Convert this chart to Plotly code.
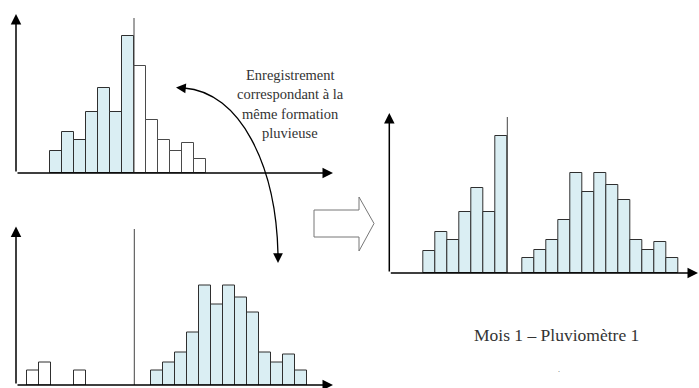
import plotly.graph_objects as go

W, H = 699, 388

# --- data (bar heights, arbitrary units) ---
top_blue = [22, 41, 33, 61, 85, 61, 137]
top_white = [107, 53, 33, 22, 30, 14]
bottom_white = [15, 23, 15]
bottom_white_bins = [0, 1, 3.9]
bottom_blue = [15, 23, 33, 53, 100, 81, 100, 88, 73, 33, 23, 31, 15]

note_lines = ["Enregistrement", "correspondant à la", "même formation", "pluvieuse"]
caption = "Mois 1 – Pluviomètre 1"

BLUE = "#DAEEF3"
EDGE = "#2f2f2f"
WEDGE = "#4a4a4a"
SERIF = "Liberation Serif, Times New Roman, DejaVu Serif, serif"
BIN = 12  # pixels per bin


def fx(px):
    return px / W


def fy(py):
    return 1 - py / H


# panel geometry in pixels: origin x, origin y, first bin left edge, x axis end, y axis top
PANELS = {
    "": (16, 173, 50, 333, 14),
    "2": (16, 385, 27.3, 333, 226.5),
    "3": (389.3, 273, 423.3, 698.5, 113),
}

fig = go.Figure()


def add_bars(ax, start, values, fill, edge):
    fig.add_trace(go.Bar(
        x=[start + i + 0.5 for i in range(len(values))],
        y=values,
        width=1,
        marker=dict(color=fill, line=dict(color=edge, width=1)),
        xaxis="x" + ax, yaxis="y" + ax,
        showlegend=False, hoverinfo="skip",
    ))


# top-left: gauge record, rain event split at the separator
add_bars("", 0, top_blue, BLUE, EDGE)
add_bars("", len(top_blue), top_white, "white", WEDGE)

# bottom-left
fig.add_trace(go.Bar(
    x=[b + 0.5 for b in bottom_white_bins], y=bottom_white, width=1,
    marker=dict(color="white", line=dict(color=EDGE, width=1)),
    xaxis="x2", yaxis="y2", showlegend=False, hoverinfo="skip",
))
b_start = (151 - 27.3) / BIN
add_bars("2", b_start, bottom_blue, BLUE, EDGE)

# right: merged month
add_bars("3", 0, top_blue, BLUE, EDGE)
add_bars("3", 8.25, bottom_blue, BLUE, EDGE)

layout = dict(
    width=W, height=H, margin=dict(l=0, r=0, t=0, b=0),
    paper_bgcolor="white", plot_bgcolor="rgba(0,0,0,0)",
    barmode="overlay", bargap=0,
)
annotations = []
shapes = []
axis_style = dict(showgrid=False, zeroline=False, showline=False,
                  showticklabels=False, ticks="", fixedrange=True)

for ax, (ox, oy, b0, xend, ytop) in PANELS.items():
    layout["xaxis" + ax] = dict(domain=[fx(ox), fx(xend)],
                                range=[(ox - b0) / BIN, (xend - b0) / BIN],
                                anchor="y" + ax, **axis_style)
    layout["yaxis" + ax] = dict(domain=[fy(oy), fy(ytop)],
                                range=[0, oy - ytop],
                                anchor="x" + ax, **axis_style)
    # axis arrows
    annotations.append(dict(xref="paper", yref="paper", x=fx(ox), y=fy(ytop),
                             ax=0, ay=oy - ytop, text="", showarrow=True,
                             arrowhead=2, arrowsize=1.4, arrowwidth=1.5,
                             arrowcolor="black", standoff=0))
    annotations.append(dict(xref="paper", yref="paper", x=fx(xend), y=fy(oy),
                             ax=-(xend - ox), ay=0, text="", showarrow=True,
                             arrowhead=2, arrowsize=1.4, arrowwidth=1.5,
                             arrowcolor="black", standoff=0))

# separators between the two rain events
for ax, xb, h in [("", 7, 155), ("2", (134.3 - 27.3) / BIN, 156), ("3", 7, 156)]:
    shapes.append(dict(type="line", xref="x" + ax, yref="y" + ax,
                       x0=xb, x1=xb, y0=0, y1=h,
                       line=dict(color="#444", width=1)))

# curved double arrow linking both records
p0, p1, p2, p3 = (184, 88), (240, 92), (276, 165), (278, 254)
shapes.append(dict(
    type="path", xref="paper", yref="paper",
    path="M {},{} C {},{} {},{} {},{}".format(
        fx(p0[0]), fy(p0[1]), fx(p1[0]), fy(p1[1]),
        fx(p2[0]), fy(p2[1]), fx(p3[0]), fy(p3[1])),
    line=dict(color="black", width=1.3),
))
annotations.append(dict(xref="paper", yref="paper", x=fx(176), y=fy(87.5),
                         ax=11, ay=1, text="", showarrow=True, arrowhead=2,
                         arrowsize=1.4, arrowwidth=1.4, arrowcolor="black", standoff=0))
annotations.append(dict(xref="paper", yref="paper", x=fx(278), y=fy(263),
                         ax=0, ay=-11, text="", showarrow=True, arrowhead=2,
                         arrowsize=1.4, arrowwidth=1.4, arrowcolor="black", standoff=0))

# hollow block arrow
pts = [(314, 210), (359, 210), (359, 197), (374, 223.5), (359, 251), (359, 237), (314, 237)]
shapes.append(dict(
    type="path", xref="paper", yref="paper",
    path="M " + " L ".join("{},{}".format(fx(x), fy(y)) for x, y in pts) + " Z",
    line=dict(color="#777", width=1), fillcolor="white",
))

# text
for i, line in enumerate(note_lines):
    annotations.append(dict(xref="paper", yref="paper", x=fx(290), y=fy(75 + 19.3 * i),
                             text=line, showarrow=False, xanchor="center", yanchor="middle",
                             font=dict(family=SERIF, size=14.5, color="#333")))
annotations.append(dict(xref="paper", yref="paper", x=fx(556), y=fy(335),
                         text=caption, showarrow=False, xanchor="center", yanchor="middle",
                         font=dict(family=SERIF, size=17.5, color="#333")))
annotations.append(dict(xref="paper", yref="paper", x=fx(559), y=fy(369),
                         text=".", showarrow=False, xanchor="center", yanchor="middle",
                         font=dict(family=SERIF, size=8, color="#666")))

layout["annotations"] = annotations
layout["shapes"] = shapes
fig.update_layout(**layout)

# the page body has a default 8px margin; drop it so the figure fills the window
fig.write_html("out.html", config={"displayModeBar": False},
               post_script="document.body.style.margin='0';")
